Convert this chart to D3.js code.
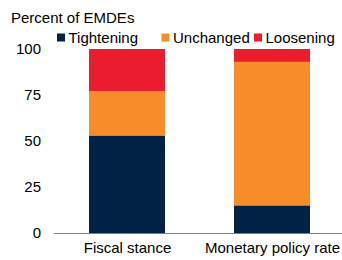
<!DOCTYPE html>
<html lang="en">
<head>
    <meta charset="UTF-8">
    <title>Policy stance</title>
    <script src="https://cdn.jsdelivr.net/npm/d3@7"></script>
    <style>
        body { margin: 0; background: #fff; }
        svg { font-family: "Liberation Sans", Arial, sans-serif; }
    </style>
</head>
<body>
<div id="chartArea"></div>
<script>
    'use strict';

    const categories = ['Fiscal stance', 'Monetary policy rate'];
    const seriesNames = ['Tightening', 'Unchanged', 'Loosening'];
    const tightening = [53, 15];
    const unchanged = [24, 78];
    const loosening = [23, 7];
    const yTicks = [0, 25, 50, 75, 100];
    const colors = ['#002345', '#F78D28', '#EB1C2D'];

    const width = 342, height = 260;
    const fontSize = 15;
    const font = '"Liberation Sans", Arial, sans-serif';

    const svg = d3.select('#chartArea').append('svg')
        .attr('width', width).attr('height', height);

    const rows = categories.map((c, i) => ({
        cat: c, Tightening: tightening[i], Unchanged: unchanged[i], Loosening: loosening[i]
    }));
    const stacked = d3.stack().keys(seriesNames)(rows);

    const y = d3.scaleLinear().domain([0, 100]).range([233, 49]);
    const xCenter = d3.scalePoint().domain(categories).range([127, 272]);
    const barW = 76;

    svg.append('g').selectAll('g').data(stacked).join('g')
        .attr('fill', (d, i) => colors[i])
        .selectAll('rect').data(d => d).join('rect')
        .attr('x', d => xCenter(d.data.cat) - barW / 2)
        .attr('width', barW)
        .attr('y', d => y(d[1]))
        .attr('height', d => y(d[0]) - y(d[1]));

    // y axis labels, no ticks
    const yAxis = d3.axisLeft(y).tickValues(yTicks).tickSize(0).tickPadding(0);
    svg.append('g').attr('transform', 'translate(41,0)').call(yAxis)
        .call(g => g.select('.domain').remove())
        .selectAll('text').attr('font-size', fontSize).attr('fill', '#000')
        .attr('font-family', font);

    // baseline
    svg.append('line')
        .attr('x1', 54).attr('x2', width)
        .attr('y1', y(0) + 0.5).attr('y2', y(0) + 0.5)
        .attr('stroke', '#808080').attr('stroke-width', 1);

    // category labels
    const xAxis = d3.axisBottom(xCenter).tickSize(0).tickPadding(0);
    svg.append('g').attr('transform', 'translate(0,242)').call(xAxis)
        .call(g => g.select('.domain').remove())
        .selectAll('text').attr('font-size', fontSize).attr('fill', '#000')
        .attr('font-family', font).attr('dy', '0.71em');

    // title
    svg.append('text').attr('x', 11).attr('y', 23)
        .attr('font-size', fontSize).text('Percent of EMDEs');

    // legend
    const legendX = [57, 161.5, 254];
    const lg = svg.append('g').selectAll('g').data(seriesNames).join('g')
        .attr('transform', (d, i) => `translate(${legendX[i]},43)`);
    lg.append('rect').attr('x', 0).attr('y', -9.5).attr('width', 8).attr('height', 8)
        .attr('fill', (d, i) => colors[i]);
    lg.append('text').attr('x', 11.5).attr('y', 0).attr('font-size', fontSize).text(d => d);
</script>
</body>
</html>
